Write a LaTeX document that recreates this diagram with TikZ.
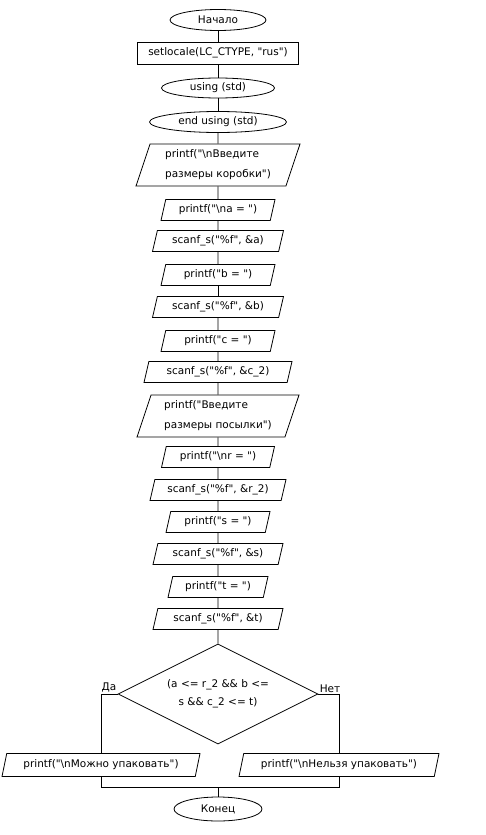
\documentclass[tikz,border=0pt]{standalone}
\usepackage{fontspec}
\setmainfont{DejaVu Sans}[Ligatures=TeXOff]
\usetikzlibrary{shapes.geometric}

\tikzset{
	every node/.style={font=\fontsize{10.5}{20}\selectfont},
	term/.style={draw, ellipse, inner sep=0pt},
	proc/.style={draw, rectangle, inner sep=0pt},
	io/.style={draw, trapezium, trapezium left angle=65, trapezium right angle=115,
		trapezium stretches body, inner sep=0pt, minimum height=21pt},
	cond/.style={draw, diamond, aspect=2, inner sep=0pt, minimum width=200pt, minimum height=100pt},
}

\begin{document}
\begin{tikzpicture}[x=1pt, y=-1pt, line width=0.8pt]
	\useasboundingbox (0,0) rectangle (485,835);
	
	\node[term, minimum width=96pt, minimum height=21pt] (start) at (218,20) {Начало};
	\node[proc, minimum width=161pt, minimum height=22pt] (locale) at (218,53) {setlocale(LC\_CTYPE, "rus")};
	\node[term, minimum width=113pt, minimum height=20pt] (using) at (218,88) {using (std)};
	\node[term, minimum width=137pt, minimum height=21pt] (endusing) at (218,122) {end using (std)};
	
	\node[io, minimum width=164pt, minimum height=42pt, align=left] (askbox) at (218,165)
		{printf("\textbackslash nВведите\\размеры коробки")};
	\node[io, minimum width=114pt] (aska) at (218,210) {printf("\textbackslash na = ")};
	\node[io, minimum width=131pt] (geta) at (218,241) {scanf\_s("\%f", \&a)};
	\node[io, minimum width=114pt] (askb) at (218,275) {printf("b = ")};
	\node[io, minimum width=131pt] (getb) at (218,307) {scanf\_s("\%f", \&b)};
	\node[io, minimum width=114pt] (askc) at (218,341) {printf("c = ")};
	\node[io, minimum width=148pt] (getc) at (218,372) {scanf\_s("\%f", \&c\_2)};
	
	\node[io, minimum width=162pt, minimum height=42pt, align=left] (askparcel) at (218,416)
		{printf("Введите\\размеры посылки")};
	\node[io, minimum width=113pt] (askr) at (218,457) {printf("\textbackslash nr = ")};
	\node[io, minimum width=136pt] (getr) at (218,490) {scanf\_s("\%f", \&r\_2)};
	\node[io, minimum width=104pt] (asks) at (218,522) {printf("s = ")};
	\node[io, minimum width=130pt] (gets) at (218,554) {scanf\_s("\%f", \&s)};
	\node[io, minimum width=100pt] (askt) at (218,587) {printf("t = ")};
	\node[io, minimum width=130pt] (gett) at (218,619) {scanf\_s("\%f", \&t)};
	
	\node[cond, align=center, font=\fontsize{10.5}{18}\selectfont] (check) at (218,694)
		{(a <= r\_2 \&\& b <=\\s \&\& c\_2 <= t)};
	\node[anchor=south east, inner sep=1pt] (yeslbl) at (check.west) {Да};
	\node[anchor=south west, inner sep=1pt] (nolbl) at (check.east) {Нет};
	
	\node[io, minimum width=198pt, minimum height=23pt] (yes) at (101,765) {printf("\textbackslash nМожно упаковать")};
	\node[io, minimum width=200pt, minimum height=23pt] (no) at (339,765) {printf("\textbackslash nНельзя упаковать")};
	
	\coordinate (merge) at (218,787);
	\node[term, minimum width=88pt, minimum height=24pt] (stop) at (218,809) {Конец};
	
	% main line
	\foreach \a/\b in {start/locale, locale/using, using/endusing, endusing/askbox,
		askbox/aska, aska/geta, geta/askb, askb/getb, getb/askc, askc/getc, getc/askparcel,
		askparcel/askr, askr/getr, getr/asks, asks/gets, gets/askt, askt/gett, gett/check}
		\draw (\a.south) -- (\b.north);
	
	\draw (check.west) -| (yes.north);
	\draw (check.east) -| (no.north);
	\draw (yes.south) |- (merge) -| (no.south);
	\draw (merge) -- (stop.north);
\end{tikzpicture}
\end{document}
